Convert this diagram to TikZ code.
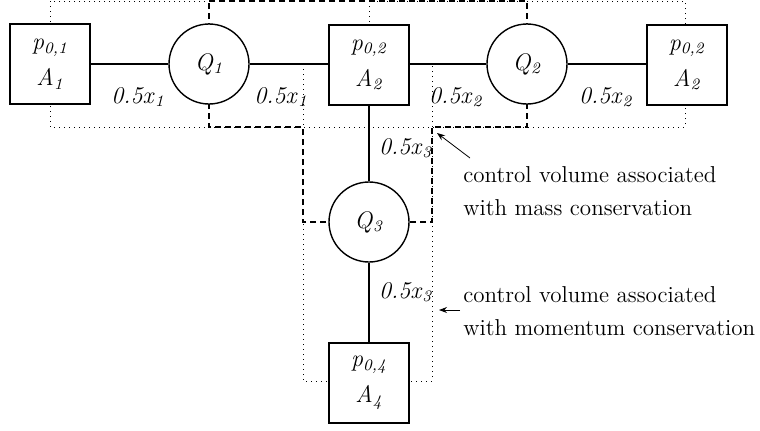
\documentclass[tikz,border=0pt]{standalone}
\usetikzlibrary{positioning,arrows.meta,calc}
\newcommand{\itsub}[2]{\textit{#1}\textsubscript{\textit{#2}}}
\tikzset{
  nodebox/.style={draw, fill=white, line width=0.7pt, minimum width=40pt, minimum height=40pt, inner sep=0pt, align=center, font=\fontsize{12}{18}\selectfont},
  pumpcirc/.style={draw, fill=white, circle, line width=0.7pt, minimum size=40pt, inner sep=0pt, font=\fontsize{12}{14}\selectfont},
  pipe/.style={line width=0.7pt},
  momcv/.style={line width=0.5pt, dotted},
  masscv/.style={line width=0.6pt, dash pattern=on 3pt off 2pt},
  seglbl/.style={inner sep=0pt, font=\fontsize{12}{14}\selectfont},
  note/.style={inner sep=0pt, align=left, font=\fontsize{11.5}{16.5}\selectfont},
  notearr/.style={-{Stealth[length=4pt, width=3pt]}, line width=0.4pt}
}
\begin{document}
\begin{tikzpicture}[x=0.5pt, y=-0.5pt]
\useasboundingbox (0,0) rectangle (760,430);
% control volumes
\draw[momcv] (50,1) rectangle (369,127);
\draw[momcv] (369,1) rectangle (685,127);
\draw[momcv] (303,64) rectangle (432,381);
\draw[masscv] (209,1) -- (527,1) -- (527,127) -- (432,127) -- (432,222) -- (303,222) -- (303,127) -- (209,127) -- cycle;
% nodes and pumps
\node[nodebox] (n1) at (50,64) {\itsub{p}{0,1}\\\itsub{A}{1}};
\node[nodebox] (n2) at (369,65) {\itsub{p}{0,2}\\\itsub{A}{2}};
\node[nodebox] (n3) at (687,65) {\itsub{p}{0,2}\\\itsub{A}{2}};
\node[nodebox] (n4) at (369,383) {\itsub{p}{0,4}\\\itsub{A}{4}};
\node[pumpcirc] (q1) at (209,64) {\itsub{Q}{1}};
\node[pumpcirc] (q2) at (527,64) {\itsub{Q}{2}};
\node[pumpcirc] (q3) at (369,222) {\itsub{Q}{3}};
\draw[pipe] (n1) -- (q1);
\draw[pipe] (q1) -- (q1 -| n2.west);
\draw[pipe] (q2 -| n2.east) -- (q2);
\draw[pipe] (q2) -- (q2 -| n3.west);
\draw[pipe] (n2) -- (q3);
\draw[pipe] (q3) -- (n4);
% segment lengths
\node[seglbl] (l1a) at (138,97) {\itsub{0.5x}{1}};
\node[seglbl] (l1b) at (281,97) {\itsub{0.5x}{1}};
\node[seglbl] (l2a) at (456,97) {\itsub{0.5x}{2}};
\node[seglbl] (l2b) at (606,97) {\itsub{0.5x}{2}};
\node[seglbl] (l3a) at (406,148) {\itsub{0.5x}{3}};
\node[seglbl] (l3b) at (406,292) {\itsub{0.5x}{3}};
% notes
\node[note, anchor=west] (massnote) at (463,191) {control volume associated\\with mass conservation};
\node[note, anchor=west] (momnote) at (463,311) {control volume associated\\with momentum conservation};
\coordinate (masstail) at (470,158);
\coordinate (masstip) at (437,133);
\coordinate (momtail) at (460,310);
\coordinate (momtip) at (439,310);
\draw[notearr] (masstail) -- (masstip);
\draw[notearr] (momtail) -- (momtip);
\end{tikzpicture}
\end{document}
